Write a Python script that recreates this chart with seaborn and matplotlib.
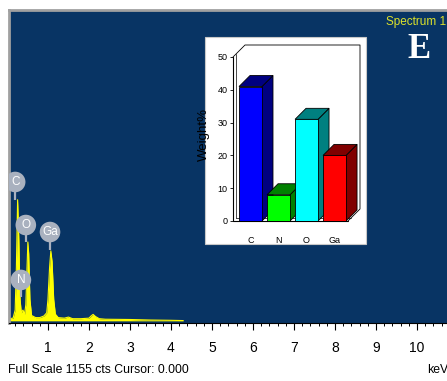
import matplotlib
matplotlib.use("Agg")
import matplotlib.pyplot as plt
import numpy as np
import pandas as pd
import seaborn as sns
from matplotlib.patches import Polygon, Rectangle
from matplotlib.lines import Line2D

# ---------------- data ----------------
energy_keV = [0.05, 0.15, 0.20, 0.23, 0.26, 0.29, 0.32, 0.35, 0.39, 0.43, 0.46,
              0.49, 0.51, 0.53, 0.56, 0.60, 0.70, 0.80, 0.90, 0.97, 1.00, 1.04,
              1.07, 1.10, 1.14, 1.18, 1.25, 1.40, 1.50, 1.60, 1.80, 2.00, 2.05,
              2.10, 2.16, 2.25, 2.40, 3.00, 3.50, 4.00, 4.30]
counts = [8, 10, 40, 200, 450, 300, 80, 30, 40, 25, 60,
          200, 293, 250, 80, 20, 12, 12, 18, 30, 80, 200,
          260, 220, 80, 25, 12, 10, 14, 8, 8, 10, 18,
          24, 16, 8, 6, 5, 3, 2, 1]

peak_labels = ["C", "O", "N", "Ga"]
label_keV = [0.20, 0.46, 0.34, 1.05]
label_cts = [516, 356, 152, 330]
stem_end_cts = [449, 293, 88, 263]

x_ticks = [1, 2, 3, 4, 5, 6, 7, 8, 9, 10]

elements = ["C", "N", "O", "Ga"]
weight_pct = [41, 8, 31, 20]
front_colors = ["#0000ff", "#00ff00", "#00ffff", "#ff0000"]
shade_colors = ["#000080", "#008000", "#008080", "#800000"]
inset_yticks = [0, 10, 20, 30, 40, 50]

# ---------------- style ----------------
sns.set_theme(style="white")
plt.rcParams["font.family"] = ["Liberation Sans", "DejaVu Sans"]

W, H = 447, 381
fig = plt.figure(figsize=(W / 100, H / 100), dpi=100)
fig.patch.set_facecolor("white")

def fx(px):
    return px / W

def fy(py):
    return 1 - py / H

# ---------------- main spectrum ----------------
ax = fig.add_axes([fx(9), fy(323), 1 - fx(9), (323 - 10) / H], zorder=0)
ax.set_facecolor("#083464")
df = pd.DataFrame({"keV": energy_keV, "cts": counts})
sns.lineplot(data=df, x="keV", y="cts", ax=ax, color="#ffff00", lw=0.8)
ax.fill_between(df["keV"], df["cts"], color="#ffff00", lw=0)
ax.set_xlim(0.05, 10.73)
ax.set_ylim(-8, 1155)
ax.set_xlabel("")
ax.set_ylabel("")
ax.set_yticks([])
ax.set_xticks(x_ticks)
ax.set_xticklabels([str(t) for t in x_ticks], fontsize=10)
ax.set_xticks(np.arange(0.2, 10.71, 0.2), minor=True)
ax.tick_params(axis="x", which="major", direction="out", length=5, width=0.8,
               color="black", pad=8, bottom=True, labelcolor="black")
ax.tick_params(axis="x", which="minor", direction="out", length=2.3, width=0.7,
               color="black", bottom=True)
for s in ["left", "top"]:
    ax.spines[s].set_color("#a0a0a0")
    ax.spines[s].set_linewidth(2)
ax.spines["right"].set_visible(False)
ax.spines["bottom"].set_color("black")
ax.spines["bottom"].set_linewidth(0.8)

# peak label bubbles
ax.vlines(label_keV, stem_end_cts, label_cts, color="#a9b1bf", lw=1.6, zorder=4)
ax.scatter(label_keV, label_cts, s=220, color="#a9b1bf", edgecolor="none", zorder=5)
for lab, xk, yc in zip(peak_labels, label_keV, label_cts):
    ax.text(xk, yc, lab, color="white", fontsize=8.5, ha="center", va="center", zorder=6)

# texts
fig.text(fx(8), fy(370), "Full Scale 1155 cts Cursor: 0.000", fontsize=8.8,
         ha="left", va="center", color="black")
fig.text(fx(427), fy(370), "keV", fontsize=8.8, ha="left", va="center", color="black")
fig.text(fx(446), fy(22), "Spectrum 1", fontsize=8.5, ha="right", va="center",
         color="#dde22a")
fig.text(fx(419), fy(50), "E", fontsize=25, ha="center", va="center", color="white",
         fontweight="bold", family=["Liberation Serif", "DejaVu Serif"])

# ---------------- inset ----------------
fig.patches.append(Rectangle((fx(205), fy(244)), 161 / W, 207 / H,
                             transform=fig.transFigure, facecolor="white",
                             edgecolor="#c8c8c8", lw=0.8, zorder=1))

ins = fig.add_axes([fx(233), fy(221), 115 / W, 164 / H], zorder=2)
ins.patch.set_alpha(0)
ins_df = pd.DataFrame({"element": elements, "weight": weight_pct})
sns.barplot(data=ins_df, x="element", y="weight", hue="element", palette=front_colors,
            legend=False, width=0.82, saturation=1, edgecolor="black", linewidth=0.6,
            ax=ins, zorder=3)
xl, xr = -0.625, 3.48
ins.set_xlim(xl, xr)
ins.set_ylim(0, 50)
for s in ins.spines.values():
    s.set_visible(False)

def off(pt, dpx, dpy):
    d = ins.transData.transform(pt)
    return ins.transData.inverted().transform((d[0] + dpx, d[1] + dpy))

# back wall
D = 12
wall = [(xl, 50), tuple(off((xl, 50), D, D)), tuple(off((xr, 50), D, D)),
        tuple(off((xr, 0), D, D)), (xr, 0)]
ins.add_line(Line2D([p[0] for p in wall], [p[1] for p in wall], color="black",
                    lw=0.6, clip_on=False, zorder=1))
ins.add_line(Line2D([xl, xl, xr], [50, 0, 0], color="black", lw=0.8,
                    clip_on=False, zorder=2))
# floor / wall double line
p1 = off((xl, 0), 3, 3)
p2 = off((xr, 0), 3, 3)
ins.add_line(Line2D([p1[0], p2[0]], [p1[1], p2[1]], color="black", lw=0.5,
                    clip_on=False, zorder=2))
p3 = off((xl, 50), 3, 3)
ins.add_line(Line2D([p1[0], p3[0]], [p1[1], p3[1]], color="black", lw=0.5,
                    clip_on=False, zorder=2))

# 3D faces for bars
d = 11
for patch, sc in zip(ins.patches, shade_colors):
    x0 = patch.get_x()
    w = patch.get_width()
    h = patch.get_height()
    top = [(x0, h), (x0 + w, h), tuple(off((x0 + w, h), d, d)), tuple(off((x0, h), d, d))]
    side = [(x0 + w, 0), (x0 + w, h), tuple(off((x0 + w, h), d, d)),
            tuple(off((x0 + w, 0), d, d))]
    ins.add_patch(Polygon(side, closed=True, facecolor=sc, edgecolor="black",
                          lw=0.6, clip_on=False, zorder=2.5))
    ins.add_patch(Polygon(top, closed=True, facecolor=sc, edgecolor="black",
                          lw=0.6, clip_on=False, zorder=2.5))

ins.set_yticks(inset_yticks)
ins.set_yticklabels([str(v) for v in inset_yticks], fontsize=6.5)
ins.tick_params(axis="y", left=True, length=2, width=0.6, color="black", pad=2,
                labelcolor="black")
ins.tick_params(axis="x", bottom=False, pad=5, labelsize=6.5, labelcolor="black")
ins.set_xlabel("")
ins.set_ylabel("Weight%", fontsize=9.5, color="black")
ins.yaxis.set_label_coords(-0.2, 0.53)

fig.savefig("out.png", dpi=100, facecolor="white")
